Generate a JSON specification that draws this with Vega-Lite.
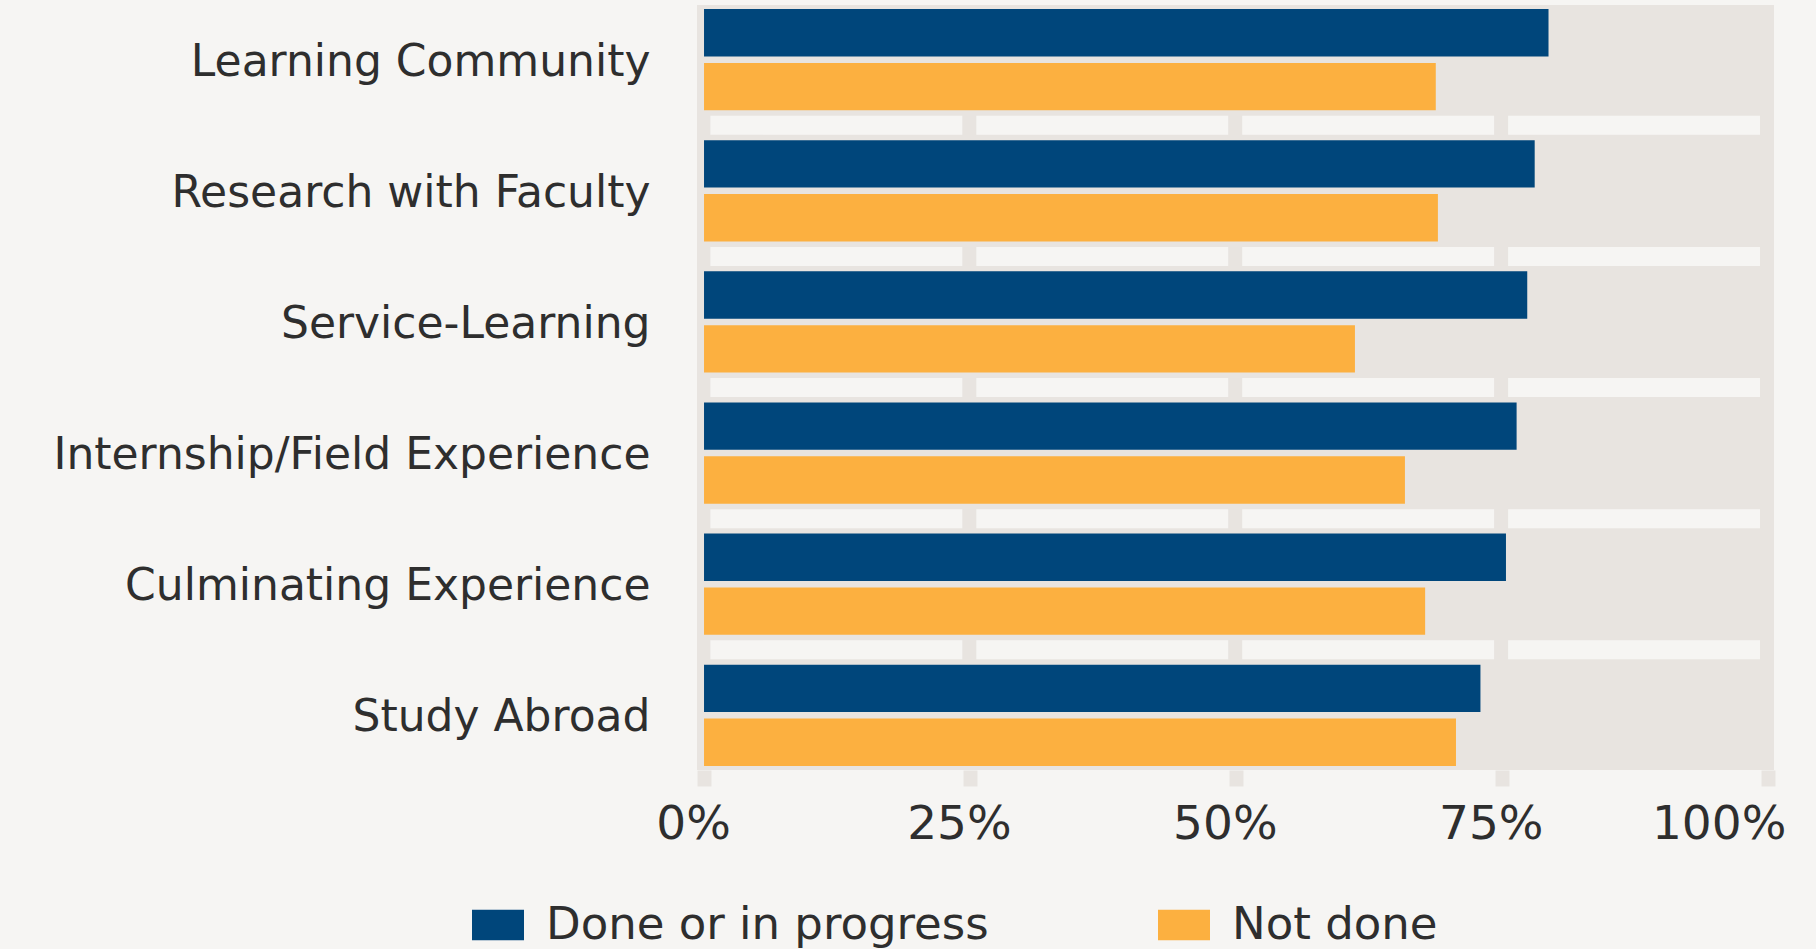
{
  "$schema": "https://vega.github.io/schema/vega-lite/v6.json",
  "autosize": {"type": "none"},
  "padding": {"left": 697, "top": 5, "right": 42, "bottom": 179},
  "width": 1077,
  "height": 765,
  "background": "#f6f5f3",
  "config": {
    "view": {"fill": "#e8e4e0", "stroke": null},
    "font": "DejaVu Sans"
  },
  "data": {
    "values": [
      {"activity": "Learning Community", "status": "Done or in progress", "pct": 79.4},
      {"activity": "Learning Community", "status": "Not done", "pct": 68.8},
      {"activity": "Research with Faculty", "status": "Done or in progress", "pct": 78.1},
      {"activity": "Research with Faculty", "status": "Not done", "pct": 69.0},
      {"activity": "Service-Learning", "status": "Done or in progress", "pct": 77.4},
      {"activity": "Service-Learning", "status": "Not done", "pct": 61.2},
      {"activity": "Internship/Field Experience", "status": "Done or in progress", "pct": 76.4},
      {"activity": "Internship/Field Experience", "status": "Not done", "pct": 65.9},
      {"activity": "Culminating Experience", "status": "Done or in progress", "pct": 75.4},
      {"activity": "Culminating Experience", "status": "Not done", "pct": 67.8},
      {"activity": "Study Abroad", "status": "Done or in progress", "pct": 73.0},
      {"activity": "Study Abroad", "status": "Not done", "pct": 70.7}
    ]
  },
  "encoding": {
    "y": {
      "field": "activity",
      "type": "nominal",
      "title": null,
      "scale": {
        "domain": ["Learning Community", "Research with Faculty", "Service-Learning", "Internship/Field Experience", "Culminating Experience", "Study Abroad"],
        "paddingInner": 0.227,
        "paddingOuter": 0.0306
      },
      "axis": {
        "domain": false,
        "ticks": false,
        "grid": false,
        "labelFont": "DejaVu Sans",
        "labelFontSize": 44,
        "labelColor": "#2e2e2e",
        "labelPadding": 47,
        "labelOffset": 3,
        "labelLimit": 800
      }
    }
  },
  "layer": [
    {
      "transform": [{"filter": "datum.activity !== 'Learning Community' && datum.status === 'Not done'"}],
      "mark": {"type": "rule", "color": "#f6f5f3", "strokeWidth": 19, "strokeDash": [251.9, 14], "strokeDashOffset": 251.9},
      "encoding": {
        "y": {
          "field": "activity",
          "type": "nominal",
          "bandPosition": -0.1468
        }
      }
    },
    {
      "mark": {"type": "bar"},
      "encoding": {
        "yOffset": {
          "field": "status",
          "type": "nominal",
          "scale": {"domain": ["Done or in progress", "Not done"], "paddingInner": 0.12, "paddingOuter": 0}
        },
        "x": {
          "field": "pct",
          "type": "quantitative",
          "title": null,
          "scale": {"domain": [-0.66, 100.6], "nice": false, "zero": false},
          "axis": {
            "values": [0, 25, 50, 75, 100],
            "labelExpr": "datum.value + '%'",
            "domain": false,
            "grid": false,
            "ticks": true,
            "tickColor": "#e8e4e0",
            "tickWidth": 14,
            "tickSize": 16,
            "labelFont": "DejaVu Sans",
            "labelFontSize": 47,
            "labelColor": "#2e2e2e",
            "labelPadding": 15,
            "labelOffset": {"condition": {"test": "datum.value === 100", "value": -49}, "value": -11}
          }
        },
        "x2": {"datum": 0},
        "color": {
          "field": "status",
          "type": "nominal",
          "scale": {"domain": ["Done or in progress", "Not done"], "range": ["#00467b", "#fcb040"]},
          "legend": {
            "orient": "none",
            "legendX": -225,
            "legendY": 894,
            "direction": "horizontal",
            "title": null,
            "padding": 0,
            "labelFont": "DejaVu Sans",
            "labelFontSize": 45,
            "labelColor": "#2e2e2e",
            "symbolType": "M-1,-0.5865H1V0.5865H-1Z",
            "symbolSize": 2704,
            "symbolStrokeWidth": 0,
            "symbolOpacity": 1,
            "labelOffset": 22,
            "columnPadding": 169,
            "labelLimit": 800
          }
        }
      }
    }
  ]
}
